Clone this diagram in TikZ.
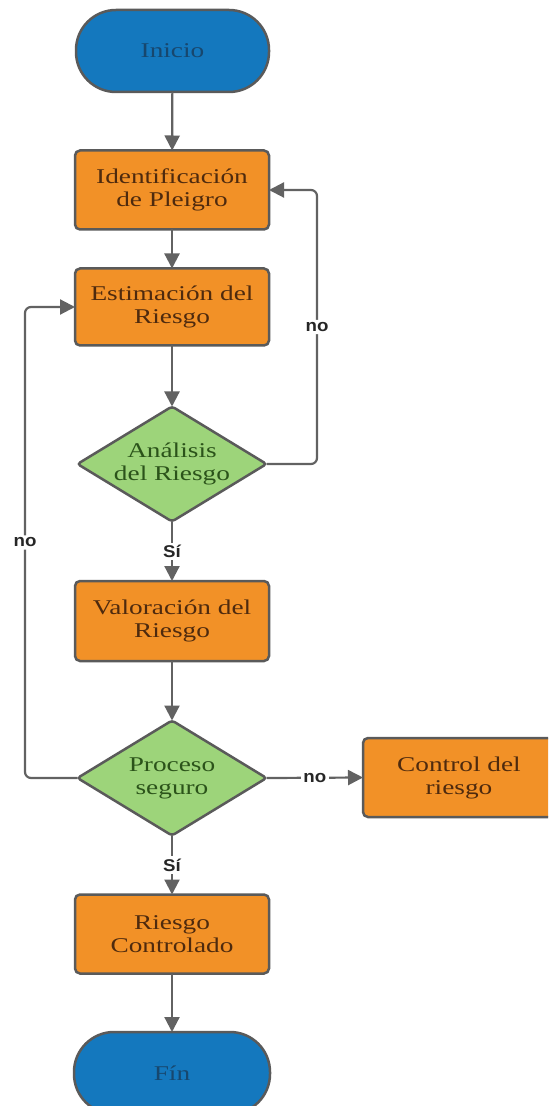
\documentclass[tikz,border=0pt]{standalone}
\usepackage{fontspec}
\setmainfont{Liberation Serif}[FakeStretch=1.3]
\newfontfamily\lblfont{Liberation Sans}[FakeStretch=1.1]
\usetikzlibrary{arrows.meta,shapes.geometric}
\definecolor{cblue}{HTML}{1478BE}
\definecolor{cbluetxt}{HTML}{17476E}
\definecolor{corange}{HTML}{F29127}
\definecolor{corangetxt}{HTML}{4E2A0E}
\definecolor{cgreen}{HTML}{9DD47A}
\definecolor{cgreentxt}{HTML}{2B531A}
\definecolor{cborder}{HTML}{5A5A5A}
\definecolor{carrow}{HTML}{626262}
\tikzset{
  boxtext/.style={font=\fontsize{10.5}{11.5}\selectfont, align=center},
  terminal/.style={draw=cborder, line width=1.25pt, fill=cblue, text=cbluetxt,
    rounded corners=20pt, minimum width=96.5pt, minimum height=41pt, boxtext, outer sep=0pt},
  procbox/.style={draw=cborder, line width=1.25pt, fill=corange, text=corangetxt,
    rounded corners=2.5pt, minimum width=97pt, minimum height=39.5pt, boxtext, outer sep=0pt},
  decision/.style={diamond, draw=cborder, line width=1.25pt, fill=cgreen,
    minimum width=94.5pt, minimum height=57.5pt, inner sep=0pt, outer sep=0pt,
    rounded corners=1.5pt},
  dtext/.style={boxtext, text=cgreentxt},
  conn/.style={draw=carrow, line width=1.1pt, -{Triangle[length=7.5pt,width=7.5pt]}},
  lbl/.style={font=\lblfont\bfseries\fontsize{8.5}{9}\selectfont, text=black!85, fill=white, inner sep=1.2pt}
}
\begin{document}
\begin{tikzpicture}[x=0.5pt,y=-0.5pt]
\clip (0,0) rectangle (548,1106);
\fill[white] (0,0) rectangle (548,1106);
\useasboundingbox (0,0) rectangle (548,1106);

\node[terminal] (ini) at (172.5,51) {Inicio};
\node[procbox] (ide) at (172,190) {Identificación\\de Pleigro};
\node[procbox, minimum height=38.5pt] (est) at (172,307) {Estimación del\\Riesgo};
\node[decision] (ana) at (172,464) {};
\node[dtext] (anat) at (ana.center) {Análisis\\del Riesgo};
\node[procbox, minimum height=40pt] (val) at (172,621) {Valoración del\\Riesgo};
\node[decision] (pro) at (172,778) {};
\node[dtext] (prot) at (pro.center) {Proceso\\seguro};
\node[procbox, minimum width=96pt] (con) at (459,777.5) {Control del\\riesgo};
\node[procbox] (rc) at (172,934) {Riesgo\\Controlado};
\node[terminal, minimum width=98pt] (fin) at (172,1073) {Fín};

\coordinate (r1) at (317,464);
\coordinate (r2) at (317,190);
\coordinate (l1) at (25,778);
\coordinate (l2) at (25,307);

\draw[conn] (ini) -- (ide);
\draw[conn] (ide) -- (est);
\draw[conn] (est) -- (ana);
\draw[conn] (ana) -- node[lbl]{Sí} (val);
\draw[conn] (val) -- (pro);
\draw[conn] (pro) -- node[lbl]{Sí} (rc);
\draw[conn] (rc) -- (fin);
\draw[conn] (pro.east) -- node[lbl]{no} (con.west);
\draw[conn, rounded corners=3pt] (ana.east) -- (r1) -- node[lbl]{no} (r2) -- (ide.east);
\draw[conn, rounded corners=3pt] (pro.west) -- (l1) -- node[lbl]{no} (l2) -- (est.west);
\end{tikzpicture}
\end{document}
